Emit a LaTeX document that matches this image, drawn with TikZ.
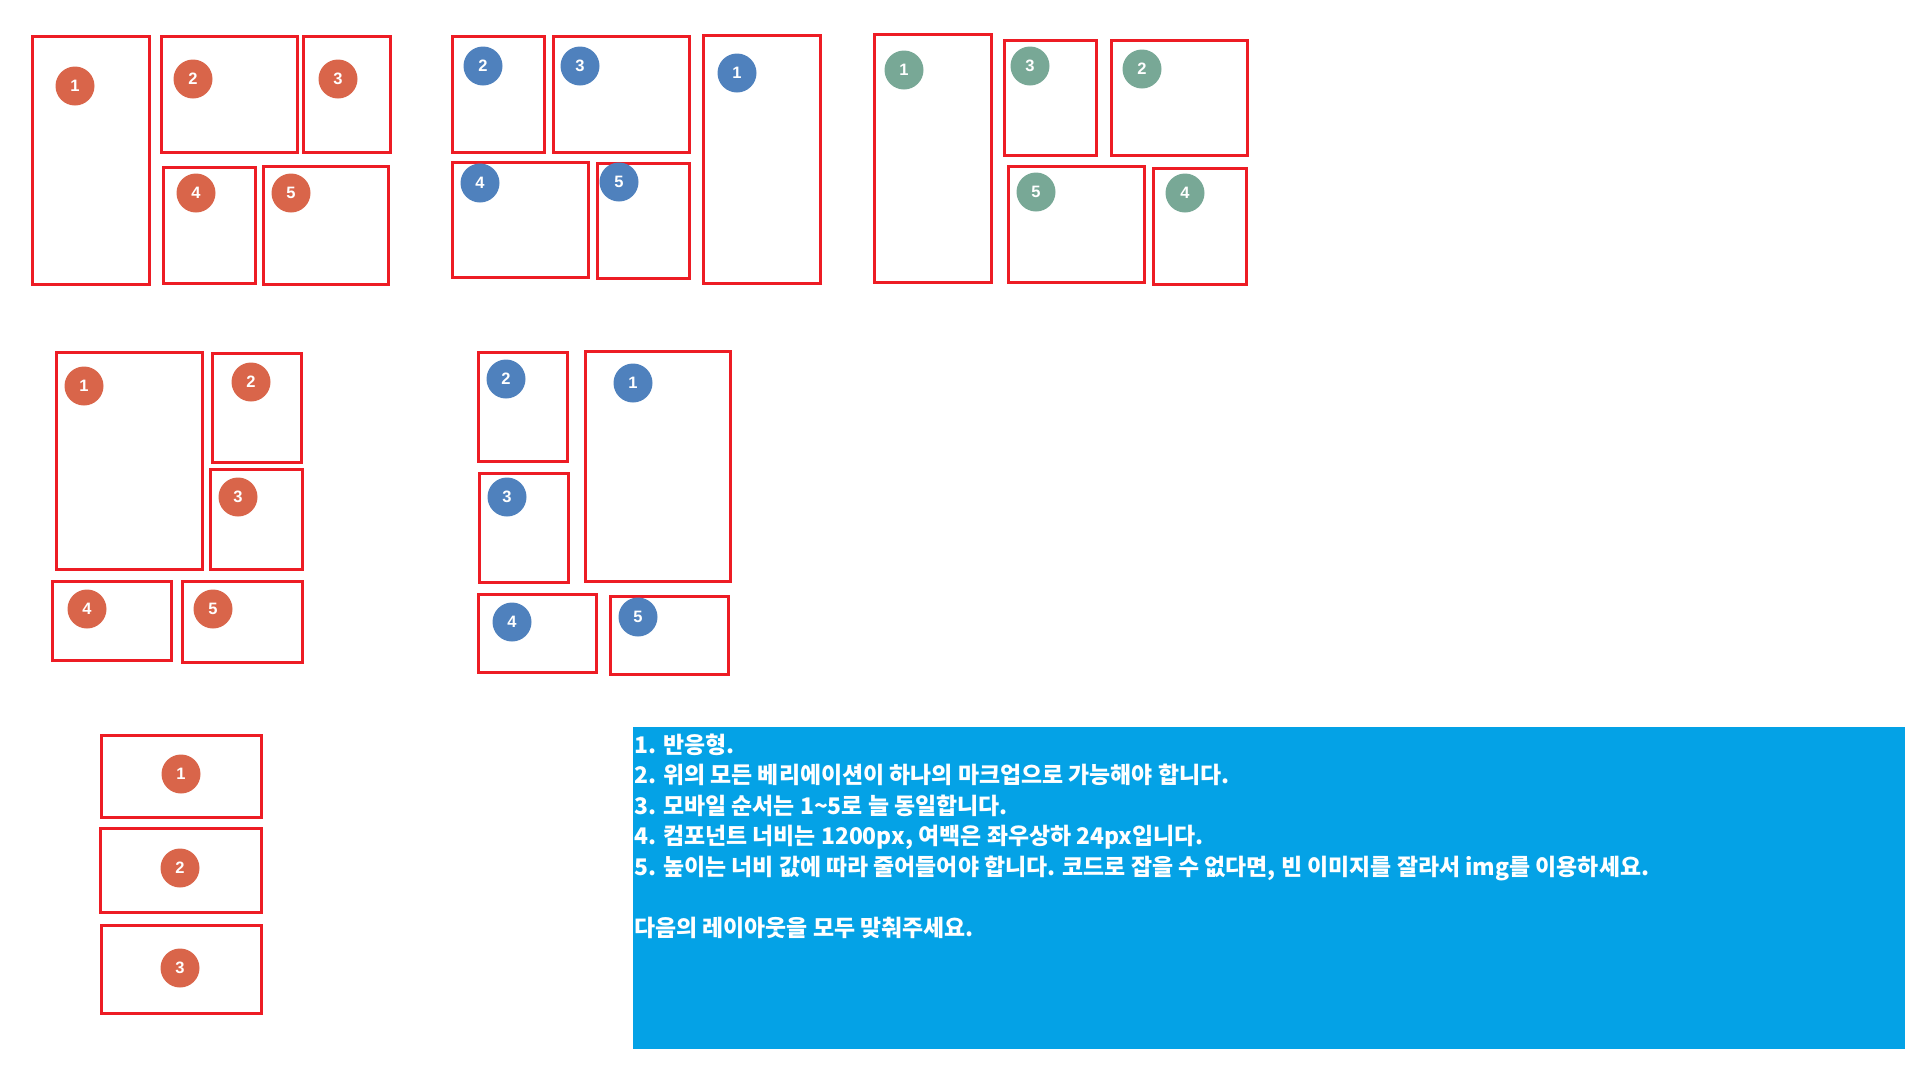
\documentclass[tikz,border=0pt]{standalone}
\usepackage{fontspec}
\setmainfont{Liberation Sans}
\newfontfamily\kofont{Noto Sans CJK KR}
\usetikzlibrary{positioning}

\definecolor{boxred}{HTML}{ED1C24}
\definecolor{dotorange}{HTML}{D9654A}
\definecolor{dotblue}{HTML}{4F81BD}
\definecolor{dotgreen}{HTML}{78A896}
\definecolor{noteblue}{HTML}{04A2E6}

\tikzset{
  panel/.style 2 args={draw=boxred, line width=3pt, inner sep=0pt,
    minimum width=#1pt, minimum height=#2pt},
  num/.style={circle, fill=#1, text=white, minimum size=39pt, inner sep=0pt,
    font=\fontsize{16.5}{16.5}\selectfont\bfseries},
}

\begin{document}
\begin{tikzpicture}[x=1pt, y=-1pt]
  \useasboundingbox (0,0) rectangle (1920,1080);

  % desktop, left
  \node[panel={117}{248}] (a1) at (90.5,160) {};
  \node[panel={136}{116}] (a2) at (229,94) {};
  \node[panel={87}{116}]  (a3) at (346.5,94) {};
  \node[panel={92}{116}]  (a4) at (209,225) {};
  \node[panel={125}{118}] (a5) at (325.5,225) {};
  \node[num=dotorange] (a1-n) at (75,86) {1};
  \node[num=dotorange] (a2-n) at (193,79) {2};
  \node[num=dotorange] (a3-n) at (338,79) {3};
  \node[num=dotorange] (a4-n) at (196,193) {4};
  \node[num=dotorange] (a5-n) at (291,193) {5};

  % desktop, right
  \node[panel={92}{116}]  (b2) at (498,94) {};
  \node[panel={136}{116}] (b3) at (621,94) {};
  \node[panel={117}{248}] (b1) at (761.5,159) {};
  \node[panel={136}{115}] (b4) at (520,219.5) {};
  \node[panel={92}{115}]  (b5) at (643,220.5) {};
  \node[num=dotblue] (b2-n) at (483,66) {2};
  \node[num=dotblue] (b3-n) at (580,66) {3};
  \node[num=dotblue] (b1-n) at (737,73) {1};
  \node[num=dotblue] (b4-n) at (480,183) {4};
  \node[num=dotblue] (b5-n) at (619,182) {5};

  % desktop, mixed
  \node[panel={117}{248}] (c1) at (932.5,158) {};
  \node[panel={92}{115}]  (c3) at (1050,97.5) {};
  \node[panel={136}{115}] (c2) at (1179,97.5) {};
  \node[panel={136}{116}] (c5) at (1076,224) {};
  \node[panel={93}{116}]  (c4) at (1199.5,226) {};
  \node[num=dotgreen] (c1-n) at (904,70) {1};
  \node[num=dotgreen] (c3-n) at (1030,66) {3};
  \node[num=dotgreen] (c2-n) at (1142,69) {2};
  \node[num=dotgreen] (c5-n) at (1036,192) {5};
  \node[num=dotgreen] (c4-n) at (1185,193) {4};

  % tablet, left
  \node[panel={146}{217}] (d1) at (129,460.5) {};
  \node[panel={89}{109}]  (d2) at (256.5,407.5) {};
  \node[panel={92}{100}]  (d3) at (256,519) {};
  \node[panel={119}{79}]  (d4) at (111.5,620.5) {};
  \node[panel={120}{81}]  (d5) at (242,621.5) {};
  \node[num=dotorange] (d1-n) at (84,386) {1};
  \node[num=dotorange] (d2-n) at (251,382) {2};
  \node[num=dotorange] (d3-n) at (238,497) {3};
  \node[num=dotorange] (d4-n) at (87,609) {4};
  \node[num=dotorange] (d5-n) at (213,609) {5};

  % tablet, right
  \node[panel={89}{109}]  (e2) at (522.5,406.5) {};
  \node[panel={89}{109}]  (e3) at (523.5,527.5) {};
  \node[panel={145}{230}] (e1) at (657.5,466) {};
  \node[panel={118}{78}]  (e4) at (537,633) {};
  \node[panel={118}{78}]  (e5) at (669,635) {};
  \node[num=dotblue] (e2-n) at (506,379) {2};
  \node[num=dotblue] (e3-n) at (507,497) {3};
  \node[num=dotblue] (e1-n) at (633,383) {1};
  \node[num=dotblue] (e4-n) at (512,622) {4};
  \node[num=dotblue] (e5-n) at (638,617) {5};

  % mobile
  \node[panel={160}{82}] (f1) at (181,776) {};
  \node[panel={161}{84}] (f2) at (180.5,870) {};
  \node[panel={160}{88}] (f3) at (181,969) {};
  \node[num=dotorange] (f1-n) at (181,774) {1};
  \node[num=dotorange] (f2-n) at (180,868) {2};
  \node[num=dotorange] (f3-n) at (180,968) {3};

  % requirements
  \node[fill=noteblue, inner sep=0pt, minimum width=1272pt, minimum height=322pt]
    (note) at (1269,888) {};
  \node[anchor=north west, inner sep=0pt, align=left, text=white,
    font=\kofont\bfseries\fontsize{22.9}{30.5}\selectfont]
    (note-text) at (634,733.5) {%
    1. 반응형.\\
    2. 위의 모든 베리에이션이 하나의 마크업으로 가능해야 합니다.\\
    3. 모바일 순서는 1\textasciitilde5로 늘 동일합니다.\\
    4. 컴포넌트 너비는 1200px, 여백은 좌우상하 24px입니다.\\
    5. 높이는 너비 값에 따라 줄어들어야 합니다. 코드로 잡을 수 없다면, 빈 이미지를 잘라서 img를 이용하세요.\\[30.5pt]
    다음의 레이아웃을 모두 맞춰주세요.};
\end{tikzpicture}
\end{document}
